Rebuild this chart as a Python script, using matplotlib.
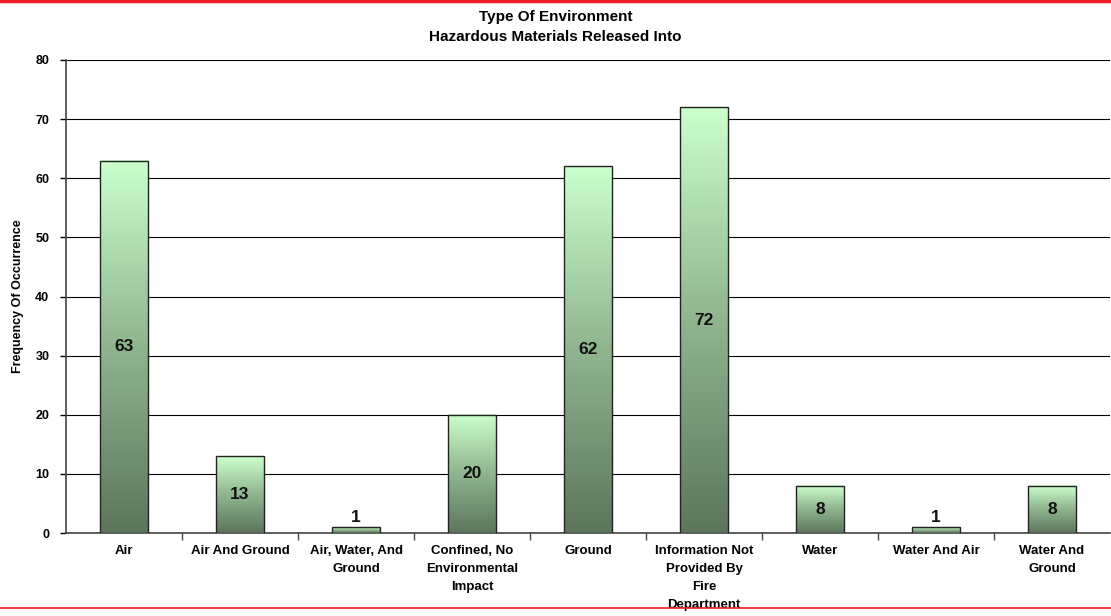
import matplotlib.pyplot as plt
import numpy as np
from matplotlib.colors import LinearSegmentedColormap
from matplotlib.lines import Line2D

categories = ['Air', 'Air And Ground', 'Air, Water, And\nGround',
              'Confined, No\nEnvironmental\nImpact', 'Ground',
              'Information Not\nProvided By\nFire\nDepartment',
              'Water', 'Water And Air', 'Water And\nGround']
counts = [63, 13, 1, 20, 62, 72, 8, 1, 8]

plt.rcParams['font.family'] = ['Liberation Sans', 'DejaVu Sans']
plt.rcParams['font.weight'] = 'bold'

fig = plt.figure(figsize=(11.11, 6.16), dpi=100)
ax = fig.add_axes([66 / 1111, 1 - 533 / 616, 1044 / 1111, 473 / 616])

cmap = LinearSegmentedColormap.from_list('grn', ['#5c765c', '#8fb58f', '#ccffcc'])
grad = np.linspace(0, 1, 256).reshape(-1, 1)
width = 0.41

x = np.arange(len(categories))
for xi, v in zip(x, counts):
    ax.imshow(grad, cmap=cmap, aspect='auto', origin='lower',
              extent=[xi - width / 2, xi + width / 2, 0, v], zorder=3)
bars = ax.bar(x, counts, width=width, facecolor='none', edgecolor='#222222',
              linewidth=1.0, zorder=4)

for xi, v in zip(x, counts):
    if v >= 5:
        ax.text(xi, v / 2, str(v), ha='center', va='center', fontsize=12.5,
                fontweight='bold', color='#111111', zorder=5)
    else:
        ax.text(xi, v + 0.4, str(v), ha='center', va='bottom', fontsize=12.5,
                fontweight='bold', color='#111111', zorder=5)

ax.set_xlim(-0.5, len(categories) - 0.5)
ax.set_ylim(0, 80)
ax.set_yticks(np.arange(0, 81, 10))
ax.tick_params(axis='y', labelsize=9, length=4, width=1, pad=8)
ax.yaxis.grid(True, color='black', linewidth=0.8, zorder=0)
ax.set_axisbelow(True)

ax.set_xticks(x)
ax.set_xticklabels(categories, fontsize=9.5, fontweight='bold', linespacing=1.65)
ax.tick_params(axis='x', length=0, pad=9)
ax.set_xticks(np.arange(0.5, len(categories) - 0.5, 1), minor=True)
ax.tick_params(axis='x', which='minor', length=5, width=1, color='#444444')

for s in ['top', 'right']:
    ax.spines[s].set_visible(False)
ax.spines['left'].set_color('#444444')
ax.spines['bottom'].set_color('#444444')
ax.spines['left'].set_linewidth(1.2)
ax.spines['bottom'].set_linewidth(1.2)

ax.set_ylabel('Frequency Of Occurrence', fontsize=9, fontweight='bold', labelpad=8)
fig.text(0.5, 1 - 17 / 616, 'Type Of Environment', ha='center', va='center',
         fontsize=11, fontweight='bold')
fig.text(0.5, 1 - 37 / 616, 'Hazardous Materials Released Into', ha='center',
         va='center', fontsize=11, fontweight='bold')

fig.add_artist(Line2D([0, 1], [1 - 1 / 616, 1 - 1 / 616], color='#ee1c24',
                      linewidth=2.5, transform=fig.transFigure))
fig.add_artist(Line2D([0, 1], [1 - 608 / 616, 1 - 608 / 616], color='#ee1c24',
                      linewidth=1.2, transform=fig.transFigure))

fig.savefig('out.png', dpi=100)
